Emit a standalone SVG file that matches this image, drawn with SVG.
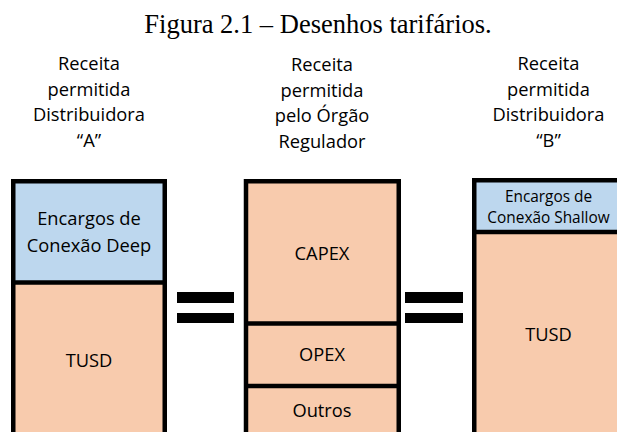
<svg xmlns="http://www.w3.org/2000/svg" width="617" height="432" viewBox="0 0 617 432">
<style>
.title{font-family:"Liberation Serif","Times New Roman",serif;font-size:26.5px;fill:#000;text-anchor:middle}
.hdr{font-family:"Open Sans","Noto Sans",sans-serif;font-size:18.3px;fill:#000;text-anchor:middle}
.lbl{font-family:"Open Sans","Noto Sans",sans-serif;font-size:18.3px;fill:#000;text-anchor:middle}
.sm{font-family:"Open Sans","Noto Sans",sans-serif;font-size:15.4px;fill:#000;text-anchor:middle}
.blue{fill:#BDD7EE}
.orange{fill:#F8CBAD}
.edge{fill:none;stroke:#000;stroke-width:4.5}
.bar{fill:#000}
</style>
<rect width="617" height="432" fill="#fff"/>
<text class="title" x="318" y="33">Figura 2.1 – Desenhos tarifários.</text>

<g id="header-a">
<text class="hdr" x="89" y="70">Receita</text>
<text class="hdr" x="89" y="95.5">permitida</text>
<text class="hdr" x="89" y="121">Distribuidora</text>
<text class="hdr" x="89" y="146.5">“A”</text>
</g>
<g id="header-reg">
<text class="hdr" x="322" y="71">Receita</text>
<text class="hdr" x="322" y="96.5">permitida</text>
<text class="hdr" x="322" y="122">pelo Órgão</text>
<text class="hdr" x="322" y="147.5">Regulador</text>
</g>
<g id="header-b">
<text class="hdr" x="548.5" y="70">Receita</text>
<text class="hdr" x="548.5" y="95.5">permitida</text>
<text class="hdr" x="548.5" y="121">Distribuidora</text>
<text class="hdr" x="548.5" y="146.5">“B”</text>
</g>

<g id="box-a">
<rect class="blue" x="13.25" y="181.25" width="151.5" height="101"/>
<rect class="orange" x="13.25" y="282.25" width="151.5" height="160"/>
<rect class="edge" x="13.25" y="181.25" width="151.5" height="270"/>
<line class="edge" x1="13.25" y1="282.5" x2="164.75" y2="282.5"/>
<text class="lbl" x="89" y="225">Encargos de</text>
<text class="lbl" x="89" y="251.5">Conexão Deep</text>
<text class="lbl" x="89" y="366.5">TUSD</text>
</g>

<g id="equal-1">
<rect class="bar" x="177" y="292" width="57" height="11"/>
<rect class="bar" x="177" y="313" width="57" height="10"/>
</g>

<g id="box-reg">
<rect class="orange" x="246" y="181.25" width="152.75" height="260"/>
<rect class="edge" x="246" y="181.25" width="152.75" height="270"/>
<line class="edge" x1="246" y1="323.5" x2="398.75" y2="323.5"/>
<line class="edge" x1="246" y1="386" x2="398.75" y2="386"/>
<text class="lbl" x="322" y="260">CAPEX</text>
<text class="lbl" x="322" y="361">OPEX</text>
<text class="lbl" x="322" y="417">Outros</text>
</g>

<g id="equal-2">
<rect class="bar" x="405" y="292" width="58" height="11"/>
<rect class="bar" x="405" y="313" width="58" height="10"/>
</g>

<g id="box-b">
<rect class="blue" x="474.25" y="180.25" width="160" height="52"/>
<rect class="orange" x="474.25" y="232.25" width="160" height="210"/>
<rect class="edge" x="474.25" y="180.25" width="175" height="270"/>
<line class="edge" x1="474.25" y1="232" x2="640" y2="232"/>
<text class="sm" x="548.5" y="202">Encargos de</text>
<text class="sm" x="548.5" y="223">Conexão Shallow</text>
<text class="lbl" x="548.5" y="340.5">TUSD</text>
</g>
</svg>
